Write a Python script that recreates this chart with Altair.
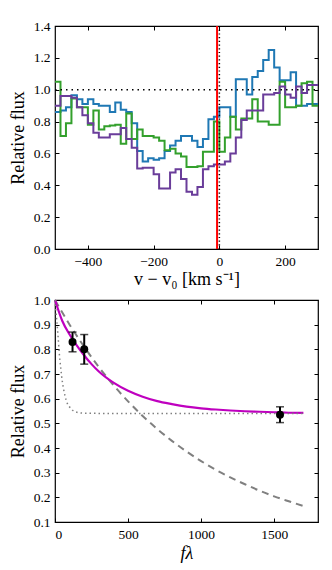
import altair as alt
import pandas as pd

FONT = "Liberation Serif"

# ---------------- top panel data ----------------
v_edges = [-500, -483.3, -466.7, -450, -433.3, -416.7, -400, -383.3, -366.7, -350,
           -333.3, -316.7, -300, -283.3, -266.7, -250, -233.3, -216.7, -200, -183.3,
           -166.7, -150, -133.3, -116.7, -100, -83.3, -66.7, -50, -33.3, -16.7,
           0, 16.7, 33.3, 50, 66.7, 83.3, 100, 116.7, 133.3, 150,
           166.7, 183.3, 200, 216.7, 233.3, 250, 266.7, 283.3]
v_end = 300

blue = [0.86, 0.87, 0.89, 0.965, 0.94, 0.91, 0.94, 0.91, 0.90, 0.90,
        0.86, 0.92, 0.875, 0.86, 0.79, 0.615, 0.55, 0.57, 0.56, 0.57,
        0.615, 0.65, 0.68, 0.71, 0.71, 0.68, 0.64, 0.69, 0.815, 0.83,
        0.89, 0.89, 0.83, 1.065, 1.065, 0.97, 1.08, 1.117, 1.186, 1.25,
        1.14, 1.06, 1.06, 1.11, 0.90, 0.90, 0.91, 0.91]
green = [1.05, 0.71, 0.79, 0.945, 0.89, 0.89, 0.78, 0.87, 0.75, 0.77,
         0.775, 0.78, 0.66, 0.85, 0.69, 0.75, 0.71, 0.71, 0.70, 0.68,
         0.62, 0.63, 0.60, 0.58, 0.515, 0.515, 0.52, 0.61, 0.61, 0.80,
         0.61, 0.70, 0.83, 0.75, 0.82, 0.82, 0.94, 0.80, 0.80, 0.78,
         0.78, 1.05, 0.89, 0.89, 0.90, 1.04, 1.05, 0.90]
purple = [0.90, 0.96, 0.96, 0.95, 0.89, 0.84, 0.79, 0.73, 0.70, 0.70,
          0.72, 0.72, 0.76, 0.69, 0.635, 0.505, 0.51, 0.51, 0.47, 0.38,
          0.38, 0.48, 0.50, 0.44, 0.36, 0.34, 0.39, 0.50, 0.52, 0.53,
          0.53, 0.55, 0.60, 0.70, 0.81, 0.87, 0.87, 0.87, 0.97, 0.97,
          0.98, 1.02, 0.97, 0.95, 1.02, 0.98, 1.03, 1.03]
series_names = ["blue", "green", "purple"]
series_colors = ["#1f78b4", "#33a02c", "#6a3d9a"]

v_red = -7
v_zero = 0
ref_v = [-500, 300]
ref_flux = [1.0, 1.0]

top_x_ticks = [-400, -200, 0, 200]
top_y_ticks = [0.0, 0.2, 0.4, 0.6, 0.8, 1.0, 1.2, 1.4]

# ---------------- bottom panel data ----------------
pt_x = [120, 200, 1540]
pt_y = [0.83, 0.80, 0.535]
pt_err = [0.04, 0.06, 0.032]

mag_x = [0, 50, 100, 150, 200, 250, 300, 400, 500, 600, 700, 800, 900, 1000,
         1100, 1200, 1300, 1400, 1500, 1600, 1700]
mag_y = [1.00, 0.915, 0.86, 0.815, 0.775, 0.74, 0.71, 0.665, 0.632, 0.608, 0.59,
         0.578, 0.568, 0.561, 0.556, 0.552, 0.549, 0.547, 0.545, 0.543, 0.542]

dash_x = [0, 100, 200, 300, 400, 500, 600, 700, 800, 900, 1000, 1100, 1200,
          1300, 1400, 1500, 1600, 1700]
dash_y = [1.0, 0.90, 0.81, 0.728, 0.655, 0.589, 0.530, 0.477, 0.429, 0.386,
          0.347, 0.312, 0.281, 0.253, 0.227, 0.204, 0.184, 0.165]

dot_x = [0, 10, 20, 30, 40, 50, 60, 70, 85, 100, 120, 150, 200, 400, 800, 1200, 1700]
dot_y = [1.0, 0.93, 0.86, 0.78, 0.72, 0.67, 0.635, 0.608, 0.58, 0.566, 0.553,
         0.545, 0.541, 0.540, 0.540, 0.540, 0.540]

bot_x_ticks = [0, 500, 1000, 1500]
bot_y_ticks = [0.1, 0.2, 0.3, 0.4, 0.5, 0.6, 0.7, 0.8, 0.9, 1.0]

# ---------------- build tables ----------------
rows = []
for name, vals in zip(series_names, [blue, green, purple]):
    for v, f in zip(v_edges + [v_end], vals + [vals[-1]]):
        rows.append({"v": v, "flux": f, "series": name})
df_steps = pd.DataFrame(rows)
df_ref = pd.DataFrame({"v": ref_v, "flux": ref_flux})
df_red = pd.DataFrame({"v": [v_red]})
df_zero = pd.DataFrame({"v": [v_zero]})

df_pts = pd.DataFrame({"fl": pt_x, "flux": pt_y})
df_pts["lo"] = [y - e for y, e in zip(pt_y, pt_err)]
df_pts["hi"] = [y + e for y, e in zip(pt_y, pt_err)]
df_mag = pd.DataFrame({"fl": mag_x, "flux": mag_y})
df_dash = pd.DataFrame({"fl": dash_x, "flux": dash_y})
df_dot = pd.DataFrame({"fl": dot_x, "flux": dot_y})

common = dict(domain=False, grid=False, ticks=True, tickSize=4, offset=-4,
              tickColor="black", tickWidth=1, labelFont=FONT, labelFontSize=13.5,
              labelColor="black", titleFont=FONT, titleFontSize=18,
              titleFontWeight="normal", titleColor="black")

# ---------------- top panel ----------------
sx_top = alt.Scale(domain=[-500, 300], nice=False, zero=False)
sy_top = alt.Scale(domain=[0, 1.4], nice=False, zero=False)

ax_tb = alt.Axis(orient="bottom", values=top_x_ticks, format="d", labelPadding=5,
                 title="v − v₀ [km s⁻¹]", titlePadding=3, **common)
ax_tl = alt.Axis(orient="left", values=top_y_ticks, format=".1f", labelPadding=5,
                 title="Relative flux", titlePadding=6, **common)
ax_tt = alt.Axis(orient="top", values=top_x_ticks, labels=False, title=None, **common)
ax_tr = alt.Axis(orient="right", values=top_y_ticks, labels=False, title=None, **common)

steps = alt.Chart(df_steps).mark_line(interpolate="step-after", strokeWidth=2, clip=True).encode(
    x=alt.X("v:Q", scale=sx_top, axis=ax_tb),
    y=alt.Y("flux:Q", scale=sy_top, axis=ax_tl),
    color=alt.Color("series:N", scale=alt.Scale(domain=series_names, range=series_colors), legend=None),
)
ref_line = alt.Chart(df_ref).mark_line(color="black", strokeWidth=1.5, strokeDash=[1.5, 4]).encode(
    x=alt.X("v:Q", scale=sx_top, axis=ax_tt),
    y=alt.Y("flux:Q", scale=sy_top, axis=ax_tr),
)
red_line = alt.Chart(df_red).mark_rule(color="#ff0000", strokeWidth=2).encode(
    x=alt.X("v:Q", scale=sx_top, axis=None)
)
zero_line = alt.Chart(df_zero).mark_rule(color="black", strokeWidth=1.5, strokeDash=[1.2, 2.5]).encode(
    x=alt.X("v:Q", scale=sx_top, axis=None)
)
top = alt.layer(steps, ref_line, red_line, zero_line).resolve_axis(
    x="independent", y="independent").properties(width=263, height=223)

# ---------------- bottom panel ----------------
sx_bot = alt.Scale(domain=[0, 1800], nice=False, zero=False)
sy_bot = alt.Scale(domain=[0.1, 1.0], nice=False, zero=False)

ax_bb = alt.Axis(orient="bottom", values=bot_x_ticks, format="d", labelPadding=5,
                 title="fλ", titlePadding=4, titleFontStyle="italic", **common)
ax_bl = alt.Axis(orient="left", values=bot_y_ticks, format=".1f", labelPadding=5,
                 title="Relative flux", titlePadding=6, **common)
ax_bt = alt.Axis(orient="top", values=bot_x_ticks, labels=False, title=None, **common)
ax_br = alt.Axis(orient="right", values=bot_y_ticks, labels=False, title=None, **common)

dash_l = alt.Chart(df_dash).mark_line(color="#808080", strokeWidth=2, strokeDash=[7, 5],
                                      interpolate="monotone").encode(
    x=alt.X("fl:Q", scale=sx_bot, axis=ax_bb),
    y=alt.Y("flux:Q", scale=sy_bot, axis=ax_bl),
)
mag_l = alt.Chart(df_mag).mark_line(color="#bf00bf", strokeWidth=2.2, interpolate="monotone").encode(
    x=alt.X("fl:Q", scale=sx_bot, axis=None),
    y=alt.Y("flux:Q", scale=sy_bot, axis=None),
)
dot_l = alt.Chart(df_dot).mark_line(color="#808080", strokeWidth=1.5, strokeDash=[1.5, 3],
                                    interpolate="monotone").encode(
    x=alt.X("fl:Q", scale=sx_bot, axis=ax_bt),
    y=alt.Y("flux:Q", scale=sy_bot, axis=ax_br),
)
err = alt.Chart(df_pts).mark_rule(color="black", strokeWidth=2).encode(
    x=alt.X("fl:Q", scale=sx_bot, axis=None),
    y=alt.Y("lo:Q", scale=sy_bot, axis=None),
    y2="hi:Q",
)
cap_lo = alt.Chart(df_pts).mark_tick(color="black", orient="horizontal", size=8, thickness=1.5).encode(
    x=alt.X("fl:Q", scale=sx_bot, axis=None),
    y=alt.Y("lo:Q", scale=sy_bot, axis=None),
)
cap_hi = alt.Chart(df_pts).mark_tick(color="black", orient="horizontal", size=8, thickness=1.5).encode(
    x=alt.X("fl:Q", scale=sx_bot, axis=None),
    y=alt.Y("hi:Q", scale=sy_bot, axis=None),
)
pts = alt.Chart(df_pts).mark_circle(color="black", size=64, opacity=1).encode(
    x=alt.X("fl:Q", scale=sx_bot, axis=None),
    y=alt.Y("flux:Q", scale=sy_bot, axis=None),
)
bottom = alt.layer(dash_l, mag_l, dot_l, err, cap_lo, cap_hi, pts).resolve_axis(
    x="independent", y="independent").properties(width=263, height=222)

chart = alt.vconcat(top, bottom, spacing=2).properties(
    padding={"left": 0, "top": 10, "right": 0, "bottom": 0}
).configure_view(stroke="black", strokeWidth=1.2)

chart.save("out.html", embed_options={"renderer": "svg", "actions": False})
